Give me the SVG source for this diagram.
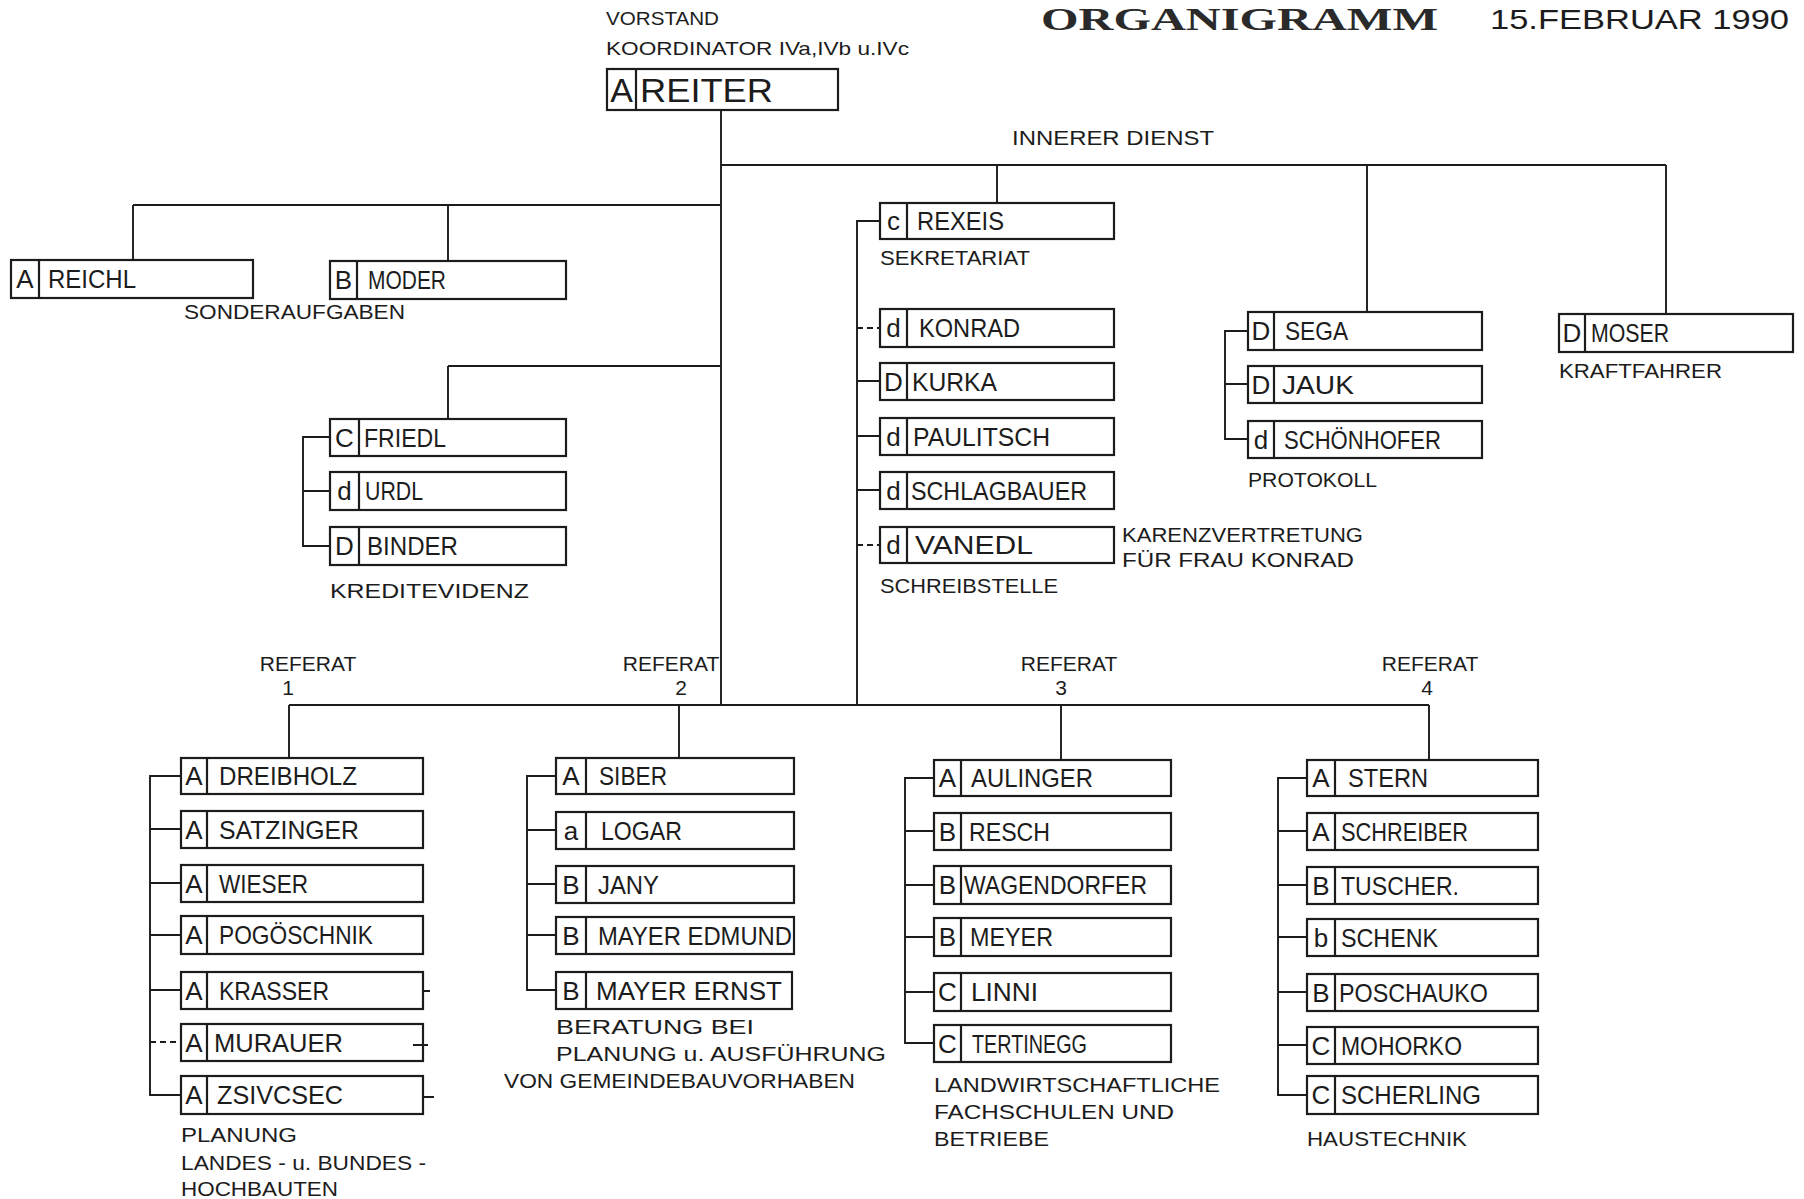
<svg xmlns="http://www.w3.org/2000/svg" width="1804" height="1199" viewBox="0 0 1804 1199">
<style>
.bx{fill:none;stroke:#1c1c1c;stroke-width:2.2}
.ln{fill:none;stroke:#1c1c1c;stroke-width:1.9}
.ds{fill:none;stroke:#1c1c1c;stroke-width:1.9;stroke-dasharray:6 4}
.t{font-family:"Liberation Sans",Arial,sans-serif;fill:#1c1c1c}
.nm{font-size:26px}
.gr{font-size:26px;text-anchor:middle}
.lb{font-size:21px}
.sm{font-size:19px}
.ti{font-family:"Liberation Serif","Times New Roman",serif;font-weight:bold;font-size:31px;fill:#2a2a2a}
.mid{text-anchor:middle}
</style>
<rect width="1804" height="1199" fill="#ffffff"/>

<!-- header -->
<g id="header">
<text class="ti" x="1041" y="30" textLength="397" lengthAdjust="spacingAndGlyphs">ORGANIGRAMM</text>
<text class="t" x="1490" y="29" font-size="27" textLength="299" lengthAdjust="spacingAndGlyphs">15.FEBRUAR 1990</text>
<text class="t sm" x="606" y="25" textLength="113" lengthAdjust="spacingAndGlyphs">VORSTAND</text>
<text class="t sm" x="606" y="55" textLength="303" lengthAdjust="spacingAndGlyphs">KOORDINATOR IVa,IVb u.IVc</text>
</g>

<!-- connectors -->
<g id="connectors">
<path class="ln" d="M721 110V705"/>
<path class="ln" d="M721 165H1666M997 165V203M1367 165V312M1666 165V314"/>
<path class="ln" d="M133 205H721M133 205V260M448 205V261"/>
<path class="ln" d="M448 366H721M448 366V419"/>
<path class="ln" d="M880 221H857V705"/>
<path class="ds" d="M857 328H880M857 545H880"/>
<path class="ln" d="M857 381H880M857 436H880M857 490H880"/>
<path class="ln" d="M289 705H1429M289 705V758M679 705V758M1061 705V760M1429 705V760"/>
<path class="ln" d="M330 437H303V546H330M303 491H330"/>
<path class="ln" d="M1248 331H1225V439H1248M1225 384H1248"/>
<path class="ln" d="M181 776H150V1095H181M150 829H181M150 883H181M150 935H181M150 990H181"/>
<path class="ds" d="M150 1042H181"/>
<path class="ln" d="M556 776H527V990H556M527 830H556M527 884H556M527 935H556"/>
<path class="ln" d="M934 778H905V1043H934M905 831H934M905 885H934M905 937H934M905 992H934"/>
<path class="ln" d="M1307 778H1278V1095H1307M1278 831H1307M1278 885H1307M1278 937H1307M1278 992H1307M1278 1045H1307"/>
<path class="ln" d="M423 991H430M413 1045H428M423 1097H434"/>
</g>

<g id="n-reiter">
<rect class="bx" x="607" y="69" width="231" height="41"/>
<line class="bx" x1="636" y1="69" x2="636" y2="110"/>
<text class="t mid" x="621.5" y="102" font-size="34">A</text>
<text class="t" x="640" y="102" font-size="34" textLength="133" lengthAdjust="spacingAndGlyphs">REITER</text>
</g>
<text class="t lb" x="1012" y="145" textLength="202" lengthAdjust="spacingAndGlyphs">INNERER DIENST</text>

<!-- Sonderaufgaben -->
<g id="n-reichl">
<rect class="bx" x="11" y="260" width="242" height="38"/>
<line class="bx" x1="39" y1="260" x2="39" y2="298"/>
<text class="t gr" x="25" y="288">A</text>
<text class="t nm" x="48" y="288" textLength="88" lengthAdjust="spacingAndGlyphs">REICHL</text>
</g>
<g id="n-moder">
<rect class="bx" x="330" y="261" width="236" height="38"/>
<line class="bx" x1="357" y1="261" x2="357" y2="299"/>
<text class="t gr" x="343.5" y="289">B</text>
<text class="t nm" x="368" y="289" textLength="78" lengthAdjust="spacingAndGlyphs">MODER</text>
</g>
<text class="t lb" x="184" y="319" textLength="221" lengthAdjust="spacingAndGlyphs">SONDERAUFGABEN</text>

<!-- Kreditevidenz -->
<g id="n-friedl">
<rect class="bx" x="330" y="419" width="236" height="37"/>
<line class="bx" x1="359" y1="419" x2="359" y2="456"/>
<text class="t gr" x="344.5" y="447">C</text>
<text class="t nm" x="364" y="447" textLength="82" lengthAdjust="spacingAndGlyphs">FRIEDL</text>
</g>
<g id="n-urdl">
<rect class="bx" x="330" y="472" width="236" height="38"/>
<line class="bx" x1="359" y1="472" x2="359" y2="510"/>
<text class="t gr" x="344.5" y="500">d</text>
<text class="t nm" x="365" y="500" textLength="58" lengthAdjust="spacingAndGlyphs">URDL</text>
</g>
<g id="n-binder">
<rect class="bx" x="330" y="527" width="236" height="38"/>
<line class="bx" x1="359" y1="527" x2="359" y2="565"/>
<text class="t gr" x="344.5" y="555">D</text>
<text class="t nm" x="367" y="555" textLength="91" lengthAdjust="spacingAndGlyphs">BINDER</text>
</g>
<text class="t lb" x="330" y="598" textLength="199" lengthAdjust="spacingAndGlyphs">KREDITEVIDENZ</text>

<!-- Sekretariat / Schreibstelle -->
<g id="n-rexeis">
<rect class="bx" x="880" y="203" width="234" height="36"/>
<line class="bx" x1="907" y1="203" x2="907" y2="239"/>
<text class="t gr" x="893.5" y="230">c</text>
<text class="t nm" x="917" y="230" textLength="87" lengthAdjust="spacingAndGlyphs">REXEIS</text>
</g>
<text class="t lb" x="880" y="265" textLength="150" lengthAdjust="spacingAndGlyphs">SEKRETARIAT</text>
<g id="n-konrad">
<rect class="bx" x="880" y="309" width="234" height="38"/>
<line class="bx" x1="907" y1="309" x2="907" y2="347"/>
<text class="t gr" x="893.5" y="337">d</text>
<text class="t nm" x="919" y="337" textLength="101" lengthAdjust="spacingAndGlyphs">KONRAD</text>
</g>
<g id="n-kurka">
<rect class="bx" x="880" y="363" width="234" height="37"/>
<line class="bx" x1="907" y1="363" x2="907" y2="400"/>
<text class="t gr" x="893.5" y="391">D</text>
<text class="t nm" x="912" y="391" textLength="85" lengthAdjust="spacingAndGlyphs">KURKA</text>
</g>
<g id="n-paulitsch">
<rect class="bx" x="880" y="418" width="234" height="37"/>
<line class="bx" x1="907" y1="418" x2="907" y2="455"/>
<text class="t gr" x="893.5" y="446">d</text>
<text class="t nm" x="913" y="446" textLength="137" lengthAdjust="spacingAndGlyphs">PAULITSCH</text>
</g>
<g id="n-schlagbauer">
<rect class="bx" x="880" y="472" width="234" height="37"/>
<line class="bx" x1="907" y1="472" x2="907" y2="509"/>
<text class="t gr" x="893.5" y="500">d</text>
<text class="t nm" x="911" y="500" textLength="176" lengthAdjust="spacingAndGlyphs">SCHLAGBAUER</text>
</g>
<g id="n-vanedl">
<rect class="bx" x="880" y="527" width="234" height="36"/>
<line class="bx" x1="907" y1="527" x2="907" y2="563"/>
<text class="t gr" x="893.5" y="554">d</text>
<text class="t nm" x="915" y="554" textLength="118" lengthAdjust="spacingAndGlyphs">VANEDL</text>
</g>
<text class="t lb" x="1122" y="542" textLength="241" lengthAdjust="spacingAndGlyphs">KARENZVERTRETUNG</text>
<text class="t lb" x="1122" y="567" textLength="232" lengthAdjust="spacingAndGlyphs">FÜR FRAU KONRAD</text>
<text class="t lb" x="880" y="593" textLength="178" lengthAdjust="spacingAndGlyphs">SCHREIBSTELLE</text>

<!-- Protokoll -->
<g id="n-sega">
<rect class="bx" x="1248" y="312" width="234" height="38"/>
<line class="bx" x1="1274" y1="312" x2="1274" y2="350"/>
<text class="t gr" x="1261" y="340">D</text>
<text class="t nm" x="1285" y="340" textLength="63" lengthAdjust="spacingAndGlyphs">SEGA</text>
</g>
<g id="n-jauk">
<rect class="bx" x="1248" y="366" width="234" height="37"/>
<line class="bx" x1="1274" y1="366" x2="1274" y2="403"/>
<text class="t gr" x="1261" y="394">D</text>
<text class="t nm" x="1282" y="394" textLength="72" lengthAdjust="spacingAndGlyphs">JAUK</text>
</g>
<g id="n-schoenhofer">
<rect class="bx" x="1248" y="421" width="234" height="37"/>
<line class="bx" x1="1274" y1="421" x2="1274" y2="458"/>
<text class="t gr" x="1261" y="449">d</text>
<text class="t nm" x="1284" y="449" textLength="157" lengthAdjust="spacingAndGlyphs">SCHÖNHOFER</text>
</g>
<text class="t lb" x="1248" y="487" textLength="129" lengthAdjust="spacingAndGlyphs">PROTOKOLL</text>

<!-- Kraftfahrer -->
<g id="n-moser">
<rect class="bx" x="1559" y="314" width="234" height="38"/>
<line class="bx" x1="1585" y1="314" x2="1585" y2="352"/>
<text class="t gr" x="1572" y="342">D</text>
<text class="t nm" x="1591" y="342" textLength="78" lengthAdjust="spacingAndGlyphs">MOSER</text>
</g>
<text class="t lb" x="1559" y="378" textLength="163" lengthAdjust="spacingAndGlyphs">KRAFTFAHRER</text>

<!-- Referat labels -->
<g id="referat-labels">
<text class="t lb mid" x="308" y="671">REFERAT</text>
<text class="t lb mid" x="288" y="695">1</text>
<text class="t lb mid" x="671" y="671">REFERAT</text>
<text class="t lb mid" x="681" y="695">2</text>
<text class="t lb mid" x="1069" y="671">REFERAT</text>
<text class="t lb mid" x="1061" y="695">3</text>
<text class="t lb mid" x="1430" y="671">REFERAT</text>
<text class="t lb mid" x="1427" y="695">4</text>
</g>

<!-- Referat 1 -->
<g id="n-dreibholz">
<rect class="bx" x="181" y="758" width="242" height="36"/>
<line class="bx" x1="207" y1="758" x2="207" y2="794"/>
<text class="t gr" x="194" y="785">A</text>
<text class="t nm" x="219" y="785" textLength="138" lengthAdjust="spacingAndGlyphs">DREIBHOLZ</text>
</g>
<g id="n-satzinger">
<rect class="bx" x="181" y="811" width="242" height="37"/>
<line class="bx" x1="207" y1="811" x2="207" y2="848"/>
<text class="t gr" x="194" y="839">A</text>
<text class="t nm" x="219" y="839" textLength="140" lengthAdjust="spacingAndGlyphs">SATZINGER</text>
</g>
<g id="n-wieser">
<rect class="bx" x="181" y="865" width="242" height="37"/>
<line class="bx" x1="207" y1="865" x2="207" y2="902"/>
<text class="t gr" x="194" y="893">A</text>
<text class="t nm" x="219" y="893" textLength="89" lengthAdjust="spacingAndGlyphs">WIESER</text>
</g>
<g id="n-pogoeschnik">
<rect class="bx" x="181" y="916" width="242" height="38"/>
<line class="bx" x1="207" y1="916" x2="207" y2="954"/>
<text class="t gr" x="194" y="944">A</text>
<text class="t nm" x="219" y="944" textLength="154" lengthAdjust="spacingAndGlyphs">POGÖSCHNIK</text>
</g>
<g id="n-krasser">
<rect class="bx" x="181" y="972" width="242" height="37"/>
<line class="bx" x1="207" y1="972" x2="207" y2="1009"/>
<text class="t gr" x="194" y="1000">A</text>
<text class="t nm" x="219" y="1000" textLength="110" lengthAdjust="spacingAndGlyphs">KRASSER</text>
</g>
<g id="n-murauer">
<rect class="bx" x="181" y="1024" width="242" height="37"/>
<line class="bx" x1="207" y1="1024" x2="207" y2="1061"/>
<text class="t gr" x="194" y="1052">A</text>
<text class="t nm" x="214" y="1052" textLength="129" lengthAdjust="spacingAndGlyphs">MURAUER</text>
</g>
<g id="n-zsivcsec">
<rect class="bx" x="181" y="1076" width="242" height="38"/>
<line class="bx" x1="207" y1="1076" x2="207" y2="1114"/>
<text class="t gr" x="194" y="1104">A</text>
<text class="t nm" x="217" y="1104" textLength="126" lengthAdjust="spacingAndGlyphs">ZSIVCSEC</text>
</g>
<text class="t lb" x="181" y="1142" textLength="116" lengthAdjust="spacingAndGlyphs">PLANUNG</text>
<text class="t lb" x="181" y="1170" textLength="245" lengthAdjust="spacingAndGlyphs">LANDES - u. BUNDES -</text>
<text class="t lb" x="181" y="1196" textLength="157" lengthAdjust="spacingAndGlyphs">HOCHBAUTEN</text>

<!-- Referat 2 -->
<g id="n-siber">
<rect class="bx" x="556" y="758" width="238" height="36"/>
<line class="bx" x1="586" y1="758" x2="586" y2="794"/>
<text class="t gr" x="571" y="785">A</text>
<text class="t nm" x="599" y="785" textLength="68" lengthAdjust="spacingAndGlyphs">SIBER</text>
</g>
<g id="n-logar">
<rect class="bx" x="556" y="812" width="238" height="37"/>
<line class="bx" x1="586" y1="812" x2="586" y2="849"/>
<text class="t gr" x="571" y="840">a</text>
<text class="t nm" x="601" y="840" textLength="81" lengthAdjust="spacingAndGlyphs">LOGAR</text>
</g>
<g id="n-jany">
<rect class="bx" x="556" y="866" width="238" height="37"/>
<line class="bx" x1="586" y1="866" x2="586" y2="903"/>
<text class="t gr" x="571" y="894">B</text>
<text class="t nm" x="598" y="894" textLength="61" lengthAdjust="spacingAndGlyphs">JANY</text>
</g>
<g id="n-mayer-edmund">
<rect class="bx" x="556" y="917" width="238" height="37"/>
<line class="bx" x1="586" y1="917" x2="586" y2="954"/>
<text class="t gr" x="571" y="945">B</text>
<text class="t nm" x="598" y="945" textLength="194" lengthAdjust="spacingAndGlyphs">MAYER EDMUND</text>
</g>
<g id="n-mayer-ernst">
<rect class="bx" x="556" y="972" width="236" height="37"/>
<line class="bx" x1="586" y1="972" x2="586" y2="1009"/>
<text class="t gr" x="571" y="1000">B</text>
<text class="t nm" x="596" y="1000" textLength="186" lengthAdjust="spacingAndGlyphs">MAYER ERNST</text>
</g>
<text class="t lb" x="556" y="1034" textLength="198" lengthAdjust="spacingAndGlyphs">BERATUNG BEI</text>
<text class="t lb" x="556" y="1061" textLength="330" lengthAdjust="spacingAndGlyphs">PLANUNG u. AUSFÜHRUNG</text>
<text class="t lb" x="504" y="1088" textLength="351" lengthAdjust="spacingAndGlyphs">VON GEMEINDEBAUVORHABEN</text>

<!-- Referat 3 -->
<g id="n-aulinger">
<rect class="bx" x="934" y="760" width="237" height="36"/>
<line class="bx" x1="961" y1="760" x2="961" y2="796"/>
<text class="t gr" x="947.5" y="787">A</text>
<text class="t nm" x="971" y="787" textLength="122" lengthAdjust="spacingAndGlyphs">AULINGER</text>
</g>
<g id="n-resch">
<rect class="bx" x="934" y="813" width="237" height="37"/>
<line class="bx" x1="961" y1="813" x2="961" y2="850"/>
<text class="t gr" x="947.5" y="841">B</text>
<text class="t nm" x="969" y="841" textLength="81" lengthAdjust="spacingAndGlyphs">RESCH</text>
</g>
<g id="n-wagendorfer">
<rect class="bx" x="934" y="866" width="237" height="38"/>
<line class="bx" x1="961" y1="866" x2="961" y2="904"/>
<text class="t gr" x="947.5" y="894">B</text>
<text class="t nm" x="964" y="894" textLength="183" lengthAdjust="spacingAndGlyphs">WAGENDORFER</text>
</g>
<g id="n-meyer">
<rect class="bx" x="934" y="918" width="237" height="38"/>
<line class="bx" x1="961" y1="918" x2="961" y2="956"/>
<text class="t gr" x="947.5" y="946">B</text>
<text class="t nm" x="970" y="946" textLength="83" lengthAdjust="spacingAndGlyphs">MEYER</text>
</g>
<g id="n-linni">
<rect class="bx" x="934" y="973" width="237" height="38"/>
<line class="bx" x1="961" y1="973" x2="961" y2="1011"/>
<text class="t gr" x="947.5" y="1001">C</text>
<text class="t nm" x="971" y="1001" textLength="67" lengthAdjust="spacingAndGlyphs">LINNI</text>
</g>
<g id="n-tertinegg">
<rect class="bx" x="934" y="1025" width="237" height="37"/>
<line class="bx" x1="961" y1="1025" x2="961" y2="1062"/>
<text class="t gr" x="947.5" y="1053">C</text>
<text class="t nm" x="972" y="1053" textLength="115" lengthAdjust="spacingAndGlyphs">TERTINEGG</text>
</g>
<text class="t lb" x="934" y="1092" textLength="286" lengthAdjust="spacingAndGlyphs">LANDWIRTSCHAFTLICHE</text>
<text class="t lb" x="934" y="1119" textLength="240" lengthAdjust="spacingAndGlyphs">FACHSCHULEN UND</text>
<text class="t lb" x="934" y="1146" textLength="115" lengthAdjust="spacingAndGlyphs">BETRIEBE</text>

<!-- Referat 4 -->
<g id="n-stern">
<rect class="bx" x="1307" y="760" width="231" height="36"/>
<line class="bx" x1="1335" y1="760" x2="1335" y2="796"/>
<text class="t gr" x="1321" y="787">A</text>
<text class="t nm" x="1348" y="787" textLength="80" lengthAdjust="spacingAndGlyphs">STERN</text>
</g>
<g id="n-schreiber">
<rect class="bx" x="1307" y="813" width="231" height="37"/>
<line class="bx" x1="1335" y1="813" x2="1335" y2="850"/>
<text class="t gr" x="1321" y="841">A</text>
<text class="t nm" x="1341" y="841" textLength="127" lengthAdjust="spacingAndGlyphs">SCHREIBER</text>
</g>
<g id="n-tuscher">
<rect class="bx" x="1307" y="867" width="231" height="37"/>
<line class="bx" x1="1335" y1="867" x2="1335" y2="904"/>
<text class="t gr" x="1321" y="895">B</text>
<text class="t nm" x="1341" y="895" textLength="118" lengthAdjust="spacingAndGlyphs">TUSCHER.</text>
</g>
<g id="n-schenk">
<rect class="bx" x="1307" y="919" width="231" height="37"/>
<line class="bx" x1="1335" y1="919" x2="1335" y2="956"/>
<text class="t gr" x="1321" y="947">b</text>
<text class="t nm" x="1341" y="947" textLength="97" lengthAdjust="spacingAndGlyphs">SCHENK</text>
</g>
<g id="n-poschauko">
<rect class="bx" x="1307" y="974" width="231" height="37"/>
<line class="bx" x1="1335" y1="974" x2="1335" y2="1011"/>
<text class="t gr" x="1321" y="1002">B</text>
<text class="t nm" x="1339" y="1002" textLength="149" lengthAdjust="spacingAndGlyphs">POSCHAUKO</text>
</g>
<g id="n-mohorko">
<rect class="bx" x="1307" y="1027" width="231" height="37"/>
<line class="bx" x1="1335" y1="1027" x2="1335" y2="1064"/>
<text class="t gr" x="1321" y="1055">C</text>
<text class="t nm" x="1341" y="1055" textLength="121" lengthAdjust="spacingAndGlyphs">MOHORKO</text>
</g>
<g id="n-scherling">
<rect class="bx" x="1307" y="1076" width="231" height="38"/>
<line class="bx" x1="1335" y1="1076" x2="1335" y2="1114"/>
<text class="t gr" x="1321" y="1104">C</text>
<text class="t nm" x="1341" y="1104" textLength="140" lengthAdjust="spacingAndGlyphs">SCHERLING</text>
</g>
<text class="t lb" x="1307" y="1146" textLength="160" lengthAdjust="spacingAndGlyphs">HAUSTECHNIK</text>
</svg>
